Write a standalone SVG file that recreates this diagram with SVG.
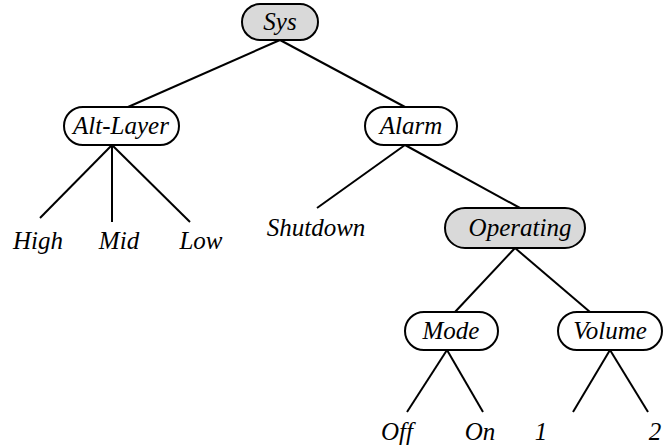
<svg xmlns="http://www.w3.org/2000/svg" width="672" height="447" viewBox="0 0 672 447">
<defs>
<style>
.n rect{stroke:#000;stroke-width:2;}
.w{fill:#fff;}
.g{fill:#d9d9d9;}
.c line{stroke:#000;stroke-width:2;}
</style>
</defs>
<rect width="672" height="447" fill="#fff"/>
<g id="connectors" class="c">
<line x1="280" y1="40" x2="128" y2="107"/>
<line x1="280" y1="40" x2="405" y2="107"/>
<line x1="112" y1="145" x2="40" y2="218"/>
<line x1="112" y1="145" x2="112" y2="222"/>
<line x1="112" y1="145" x2="190" y2="222"/>
<line x1="405" y1="145" x2="317" y2="208"/>
<line x1="405" y1="145" x2="520" y2="208"/>
<line x1="515" y1="248" x2="455" y2="312"/>
<line x1="515" y1="248" x2="590" y2="312"/>
<line x1="447" y1="350" x2="407" y2="412"/>
<line x1="447" y1="350" x2="483" y2="412"/>
<line x1="610" y1="350" x2="573" y2="412"/>
<line x1="610" y1="350" x2="648" y2="412"/>
</g>
<g font-family="Times New Roman, Liberation Serif, serif" font-style="italic" font-size="25" text-anchor="middle" fill="#000">
<g id="sys" class="n"><rect class="g" x="242" y="4" width="76" height="36" rx="18"/><text x="280" y="30">Sys</text></g>
<g id="altlayer" class="n"><rect class="w" x="64" y="107" width="115" height="38" rx="19"/><text x="121" y="134">Alt-Layer</text></g>
<g id="alarm" class="n"><rect class="w" x="365" y="107" width="92" height="38" rx="19"/><text x="411" y="134">Alarm</text></g>
<g id="high"><text x="38" y="249">High</text></g>
<g id="mid"><text x="119" y="249">Mid</text></g>
<g id="low"><text x="201" y="249">Low</text></g>
<g id="shutdown"><text x="316" y="236">Shutdown</text></g>
<g id="operating" class="n"><rect class="g" x="445" y="208" width="140" height="40" rx="20"/><text x="520" y="236">Operating</text></g>
<g id="mode" class="n"><rect class="w" x="405" y="312" width="93" height="38" rx="19"/><text x="451" y="339">Mode</text></g>
<g id="volume" class="n"><rect class="w" x="558" y="312" width="104" height="38" rx="19"/><text x="610" y="339">Volume</text></g>
<g id="off"><text x="397" y="440">Off</text></g>
<g id="on"><text x="480" y="440">On</text></g>
<g id="one"><text x="541" y="440">1</text></g>
<g id="two"><text x="655" y="440">2</text></g>
</g>
</svg>
